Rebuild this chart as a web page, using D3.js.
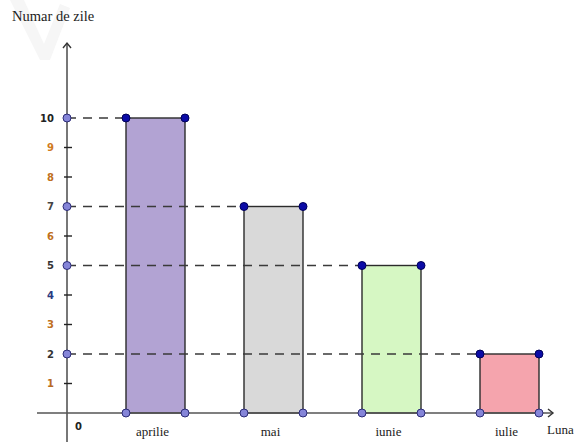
<!DOCTYPE html>
<html><head><meta charset="utf-8">
<script src="https://cdn.jsdelivr.net/npm/d3@7"></script>
<style>body{margin:0;background:#fff}svg{display:block}</style>
</head><body>
<script>
const months = ["aprilie", "mai", "iunie", "iulie"];
const days = [10, 7, 5, 2];
const barColors = ["#b2a3d3", "#d9d9d9", "#d6f7c3", "#f5a4ad"];
const yTicks = [1, 2, 3, 4, 5, 6, 7, 8, 9, 10];
const yTickColors = {1:"#b86a22", 2:"#333", 3:"#c07020", 4:"#2a3a80", 5:"#333", 6:"#c07020", 7:"#444", 8:"#c07020", 9:"#d07a20", 10:"#222"};

const W = 579, H = 442;
const svg = d3.select("body").append("svg").attr("width", W).attr("height", H);

// faint watermark
svg.append("path").attr("d", "M10,0 L24,0 L44,44 L60,4 L70,8 L50,60 L40,60 Z").attr("fill", "#f6f6f6");

const x0 = 67, xEnd = 553, y0 = 413;
const x = d3.scaleBand().domain(months).range([x0, 598]).paddingInner(0.5).paddingOuter(0.5);
const y = d3.scaleLinear().domain([0, 10]).range([y0, 118]);

const data = months.map((m, i) => ({m, v: days[i], c: barColors[i]}));

// bars
svg.selectAll("rect.bar").data(data).join("rect")
  .attr("x", d => x(d.m)).attr("y", d => y(d.v))
  .attr("width", x.bandwidth()).attr("height", d => y(0) - y(d.v))
  .attr("fill", d => d.c).attr("stroke", "#2b2b2b").attr("stroke-width", 1.4);

// dashed guide lines
svg.selectAll("line.guide").data(data).join("line")
  .attr("x1", x0).attr("x2", d => x(d.m))
  .attr("y1", d => y(d.v)).attr("y2", d => y(d.v))
  .attr("stroke", "#3a3a3a").attr("stroke-width", 1.5).attr("stroke-dasharray", "9,7");

// axes
const axisColor = "#555";
svg.append("line").attr("x1", 37).attr("x2", xEnd).attr("y1", y0).attr("y2", y0)
  .attr("stroke", axisColor).attr("stroke-width", 1.6);
svg.append("path").attr("d", `M${xEnd-5},${y0-4} L${xEnd},${y0} L${xEnd-5},${y0+4}`)
  .attr("fill", "none").attr("stroke", "#333").attr("stroke-width", 1.4);
svg.append("line").attr("x1", x0).attr("x2", x0).attr("y1", H).attr("y2", 43)
  .attr("stroke", axisColor).attr("stroke-width", 1.6);
svg.append("path").attr("d", `M${x0-4},${48} L${x0},${43} L${x0+4},${48}`)
  .attr("fill", "none").attr("stroke", "#333").attr("stroke-width", 1.4);

// y ticks (minor marks where no point)
svg.selectAll("line.tick").data(yTicks.filter(t => !days.includes(t))).join("line")
  .attr("x1", x0 - 3).attr("x2", x0 + 5).attr("y1", d => y(d)).attr("y2", d => y(d))
  .attr("stroke", "#222").attr("stroke-width", 1.4);

svg.selectAll("text.ylab").data(yTicks).join("text")
  .attr("x", 54).attr("y", d => y(d) + 3.5).attr("text-anchor", "end")
  .attr("font-family", "DejaVu Sans, Verdana, sans-serif").attr("font-size", 10)
  .attr("font-weight", "bold")
  .attr("fill", d => yTickColors[d]).text(d => d);

svg.append("text").attr("x", 75).attr("y", 430)
  .attr("font-family", "DejaVu Sans, sans-serif").attr("font-size", 10).attr("font-weight", "bold").attr("fill", "#222").text("0");

// month labels
svg.selectAll("text.xlab").data(data).join("text")
  .attr("x", d => x(d.m) + x.bandwidth() / 2 - 3).attr("y", 436)
  .attr("text-anchor", "middle").attr("font-family", "Liberation Serif, Times New Roman, serif")
  .attr("font-size", 13).attr("fill", "#222").text(d => d.m);

svg.append("text").attr("x", 547).attr("y", 434)
  .attr("font-family", "Liberation Serif, serif").attr("font-size", 13).attr("fill", "#222").text("Luna");
svg.append("text").attr("x", 12).attr("y", 21)
  .attr("font-family", "Liberation Serif, serif").attr("font-size", 14.5).attr("fill", "#222").text("Numar de zile");

// points
const light = {fill: "#8585d8", stroke: "#2c2c78"};
const dark = {fill: "#0b0ba6", stroke: "#00005a"};
const pts = [];
data.forEach(d => {
  const xl = x(d.m), xr = x(d.m) + x.bandwidth();
  pts.push({cx: xl, cy: y(0), s: light}, {cx: xr, cy: y(0), s: light});
  pts.push({cx: xl, cy: y(d.v), s: dark}, {cx: xr, cy: y(d.v), s: dark});
  pts.push({cx: x0, cy: y(d.v), s: light});
});
svg.selectAll("circle.pt").data(pts).join("circle")
  .attr("cx", d => d.cx).attr("cy", d => d.cy).attr("r", 4)
  .attr("fill", d => d.s.fill).attr("stroke", d => d.s.stroke).attr("stroke-width", 1);
</script>
</body></html>
